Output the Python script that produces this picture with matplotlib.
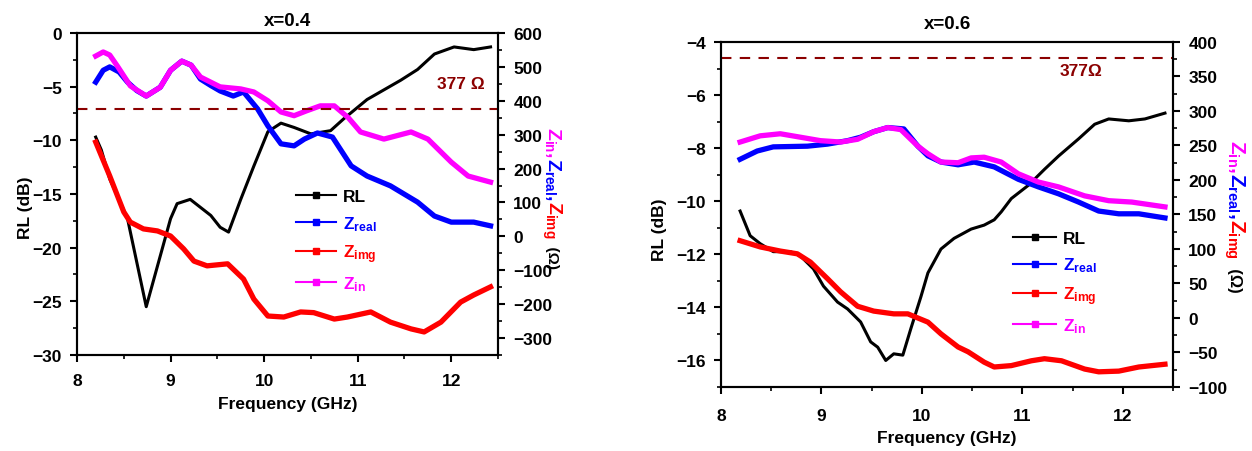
import numpy as np
import matplotlib.pyplot as plt
from matplotlib.lines import Line2D
from matplotlib.ticker import MultipleLocator

plt.rcParams['font.family'] = ['Liberation Sans', 'DejaVu Sans']
plt.rcParams['font.weight'] = 'bold'
plt.rcParams['mathtext.default'] = 'regular'
plt.rcParams['axes.linewidth'] = 1.5

#######################################
# data, x = 0.4
#######################################
f4_rl = [8.20, 8.26, 8.35, 8.54, 8.74, 9.00, 9.07, 9.21, 9.43, 9.53, 9.62, 9.75, 9.89,
         10.04, 10.18, 10.32, 10.50, 10.71, 10.85, 11.10, 11.46, 11.64, 11.82, 12.03, 12.24, 12.42]
rl4 = [-9.7, -10.9, -13.6, -17.3, -25.5, -17.3, -15.9, -15.5, -17.0, -18.1, -18.55, -15.5, -12.4,
       -9.2, -8.4, -8.8, -9.4, -9.1, -8.0, -6.2, -4.4, -3.4, -1.96, -1.3, -1.55, -1.3]

f4_real = [8.20, 8.28, 8.35, 8.45, 8.54, 8.64, 8.74, 8.89, 9.00, 9.12, 9.22, 9.32, 9.43, 9.53,
           9.67, 9.78, 9.93, 10.04, 10.18, 10.32, 10.43, 10.57, 10.73, 10.93, 11.10, 11.35,
           11.64, 11.82, 12.00, 12.24, 12.42]
zreal4 = [455, 490, 500, 485, 455, 430, 414, 440, 490, 517, 505, 464, 445, 429,
          414, 426, 376, 326, 273, 267, 287, 305, 293, 208, 178, 149,
          101, 60, 42, 42, 31]

f4_img = [8.20, 8.35, 8.50, 8.57, 8.71, 8.86, 9.00, 9.14, 9.25, 9.39, 9.61, 9.78, 9.89, 10.04,
          10.21, 10.39, 10.53, 10.75, 10.89, 11.14, 11.35, 11.57, 11.71, 11.89, 12.10, 12.24, 12.42]
zimg4 = [278, 178, 72, 42, 22, 16, 1, -37, -73, -87, -81, -126, -185, -235,
         -238, -223, -225, -244, -238, -223, -253, -273, -282, -253, -194, -173, -149]

f4_in = [8.20, 8.28, 8.35, 8.43, 8.57, 8.74, 8.89, 9.00, 9.12, 9.22, 9.32, 9.53, 9.75, 9.89,
         10.04, 10.18, 10.32, 10.45, 10.60, 10.75, 10.90, 11.03, 11.28, 11.57, 11.75, 12.00,
         12.18, 12.42]
zin4 = [532, 544, 535, 503, 444, 414, 440, 490, 517, 505, 470, 441, 435, 426,
        400, 367, 356, 370, 385, 385, 350, 308, 287, 308, 287, 219,
        178, 160]

#######################################
# data, x = 0.6
#######################################
f6_rl = [8.19, 8.29, 8.39, 8.52, 8.69, 8.79, 8.92, 9.02, 9.16, 9.26, 9.39, 9.49, 9.56, 9.64,
         9.72, 9.81, 9.89, 9.99, 10.06, 10.19, 10.32, 10.49, 10.62, 10.72, 10.79, 10.89,
         11.06, 11.22, 11.36, 11.56, 11.72, 11.86, 12.06, 12.22, 12.42]
rl6 = [-10.37, -11.3, -11.6, -11.9, -11.9, -12.06, -12.55, -13.2, -13.8, -14.06, -14.55, -15.3,
       -15.5, -16.0, -15.75, -15.8, -14.8, -13.6, -12.7, -11.8, -11.4, -11.05, -10.9, -10.7,
       -10.4, -9.9, -9.4, -8.8, -8.3, -7.65, -7.1, -6.9, -6.97, -6.9, -6.68]

f6_real = [8.19, 8.36, 8.52, 8.86, 9.06, 9.26, 9.39, 9.52, 9.66, 9.82, 9.96, 10.06, 10.19,
           10.36, 10.52, 10.72, 10.96, 11.16, 11.36, 11.56, 11.76, 11.96, 12.16, 12.42]
zreal6 = [230, 242, 248, 249, 252, 257, 262, 270, 276, 274, 249, 235, 226,
          222, 226, 219, 201, 190, 180, 168, 155, 151, 151, 145]

f6_img = [8.19, 8.39, 8.59, 8.76, 8.89, 9.06, 9.19, 9.36, 9.52, 9.72, 9.86, 10.06, 10.19,
          10.36, 10.46, 10.62, 10.72, 10.89, 11.09, 11.22, 11.39, 11.62, 11.76, 11.96, 12.16, 12.42]
zimg6 = [112, 103, 97, 93, 81, 57, 38, 17, 10, 6, 6, -6, -23,
         -42, -49, -64, -71, -69, -62, -59, -62, -74, -78, -77, -71, -67]

f6_in = [8.19, 8.39, 8.59, 8.79, 8.99, 9.19, 9.36, 9.52, 9.66, 9.79, 9.96, 10.06, 10.19,
         10.36, 10.49, 10.62, 10.79, 10.96, 11.16, 11.36, 11.62, 11.86, 12.09, 12.42]
zin6 = [255, 264, 267, 262, 257, 255, 259, 270, 276, 273, 249, 238, 226,
        225, 232, 233, 226, 209, 197, 190, 177, 170, 168, 161]

z0 = 377
labels = ['RL', 'Z$_{real}$', 'Z$_{img}$', 'Z$_{in}$']
colors = ['black', 'blue', 'red', 'magenta']
dark_red = '#8b0000'

fig = plt.figure(figsize=(12.52, 4.52), dpi=100)


def panel(rect, title, title_pad, f_rl, rl, f_re, zre, f_im, zim, f_in, zin,
          ylim_l, ymaj_l, ylim_r, ymaj_r, leg_anchor, hlen, txt_pos, txt, xpad, xlab_pad):
    ax = fig.add_axes(rect)
    ax2 = ax.twinx()
    ax.plot(f_rl, rl, color='black', lw=2.2)
    ax2.plot(f_re, zre, color='blue', lw=3.8)
    ax2.plot(f_im, zim, color='red', lw=3.8)
    ax2.plot(f_in, zin, color='magenta', lw=3.8)
    ax2.axhline(z0, color=dark_red, lw=1.5, ls=(0, (5, 4)))
    ax2.text(txt_pos[0], txt_pos[1], txt, transform=ax2.transAxes, color=dark_red,
             fontsize=12.5, fontweight='bold', ha='left', va='baseline')

    ax.set_xlim(8, 12.5)
    ax.set_ylim(*ylim_l)
    ax2.set_ylim(*ylim_r)
    ax.xaxis.set_major_locator(MultipleLocator(1))
    ax.xaxis.set_minor_locator(MultipleLocator(0.5))
    ax.yaxis.set_major_locator(MultipleLocator(ymaj_l))
    ax.yaxis.set_minor_locator(MultipleLocator(ymaj_l / 2))
    ax2.yaxis.set_major_locator(MultipleLocator(ymaj_r))
    ax2.yaxis.set_minor_locator(MultipleLocator(ymaj_r / 2))
    for a in (ax, ax2):
        a.tick_params(axis='both', which='major', direction='out', length=5, width=1.5,
                      labelsize=12.5, pad=6)
        a.tick_params(axis='both', which='minor', direction='out', length=3, width=1.2)
    ax.tick_params(axis='x', pad=xpad)

    ax.set_title(title, fontsize=13.5, fontweight='bold', pad=title_pad)
    ax.set_xlabel('Frequency (GHz)', fontsize=12.5, fontweight='bold', labelpad=xlab_pad)
    ax.set_ylabel('RL (dB)', fontsize=12.5, fontweight='bold')

    handles = [Line2D([], [], color=c, lw=1.5, marker='s', markersize=4) for c in colors]
    ax2.legend(handles, labels, loc='upper left', bbox_to_anchor=leg_anchor, frameon=False,
               borderpad=0, borderaxespad=0, handlelength=hlen, handletextpad=0.4,
               labelspacing=0.55, labelcolor=colors,
               prop={'size': 12.5, 'weight': 'bold'})
    return ax, ax2


axL, axL2 = panel([0.0615, 0.2124, 0.3363, 0.7124], 'x=0.4', 6,
                  f4_rl, rl4, f4_real, zreal4, f4_img, zimg4, f4_in, zin4,
                  (-30, 0), 5, (-350, 600), 100, (0.52, 0.515), 2.3,
                  (0.855, 0.83), '377 \u03a9', 8, 6)
axL.yaxis.set_label_coords(-0.105, 0.46)

axR, axR2 = panel([0.5759, 0.1416, 0.3610, 0.7633], 'x=0.6', 10,
                  f6_rl, rl6, f6_real, zreal6, f6_img, zimg6, f6_in, zin6,
                  (-17, -4), 2, (-100, 400), 50, (0.646, 0.452), 2.5,
                  (0.75, 0.905), '377\u03a9', 10, 5)
axR.yaxis.set_label_coords(-0.12, 0.458)

# multicolour right-hand label, written top to bottom
def side_label(x_px, y_top_px, size):
    pieces = [('Z$_{in}$,', 'magenta', size), ('Z$_{real}$,', 'blue', size),
              ('Z$_{img}$', 'red', size), ('  (\u03a9)', 'black', size - 3)]
    renderer = fig.canvas.get_renderer()
    y = fig.bbox.height - y_top_px
    for s, c, fs in pieces:
        t = fig.text(x_px, y, s, color=c, fontsize=fs, fontweight='bold', rotation=270,
                     rotation_mode='anchor', ha='left', va='baseline', transform=None)
        y -= t.get_window_extent(renderer).height


side_label(548, 127, 14)
side_label(1230, 140, 15)

fig.canvas.draw()
for a in (axL, axL2, axR, axR2):
    for lab in a.get_xticklabels() + a.get_yticklabels():
        lab.set_fontweight('bold')

fig.savefig('out.png', dpi=100)
